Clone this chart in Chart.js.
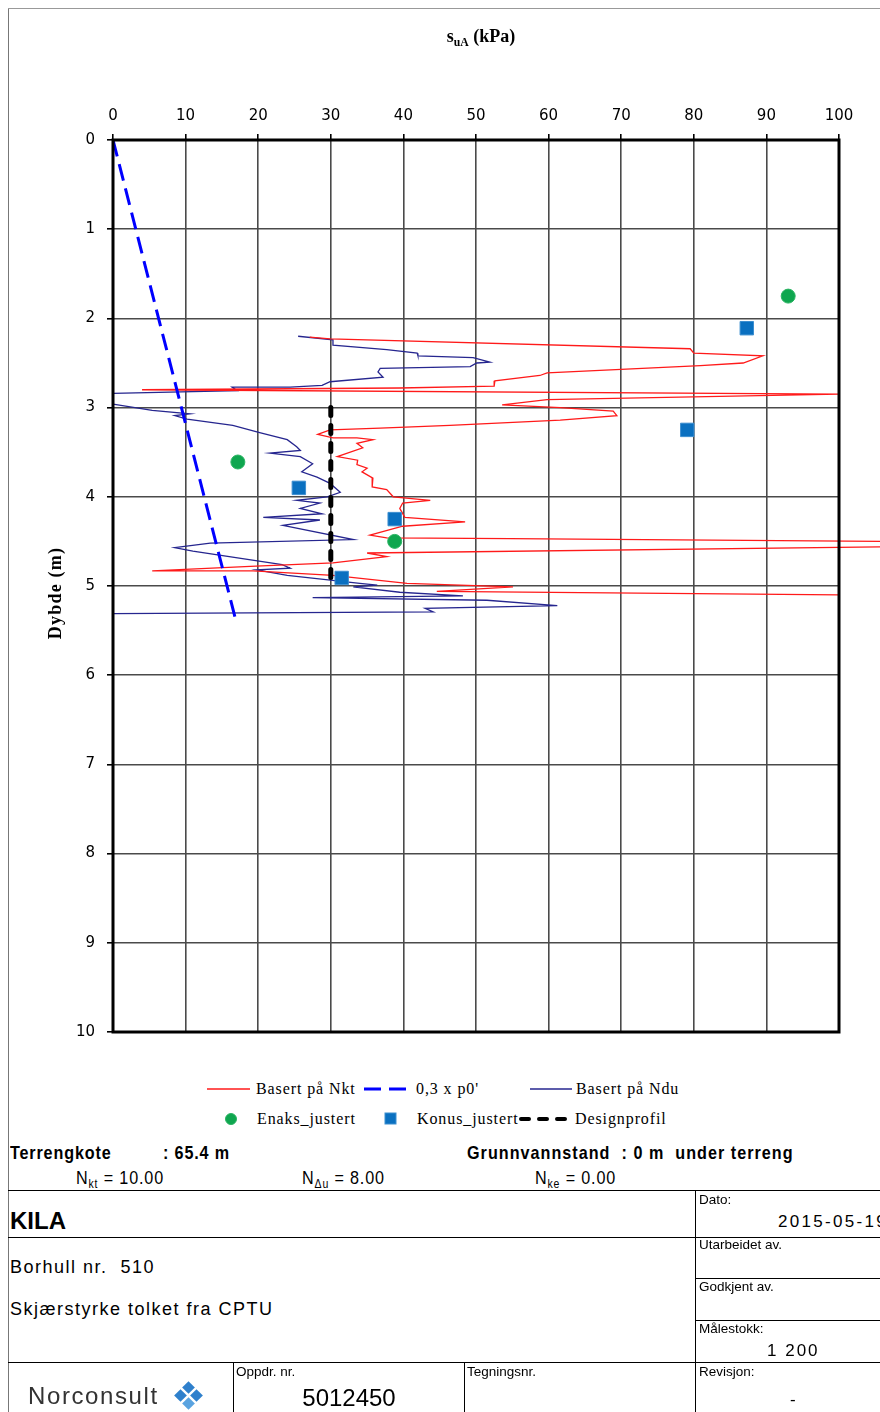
<!DOCTYPE html>
<html><head><meta charset="utf-8">
<script src="https://cdn.jsdelivr.net/npm/chart.js@4.4.1/dist/chart.umd.min.js"></script>
<style>
html,body{margin:0;padding:0;background:#fff;}
#page{position:relative;width:880px;height:1412px;overflow:hidden;background:#fff;}
.abs{position:absolute;white-space:nowrap;}
.hl{position:absolute;height:1px;background:#000;}
.vl{position:absolute;width:1px;background:#000;}
.serif{font-family:"Liberation Serif","Times New Roman",serif;}
.narrow{font-family:"Liberation Sans",Arial,sans-serif;transform:scaleX(0.85);transform-origin:0 50%;}
.sans{font-family:"Liberation Sans",Arial,sans-serif;}
sub{font-size:65%;vertical-align:-0.3em;line-height:0;}
</style></head>
<body><div id="page">
<canvas id="c" width="880" height="1060" style="position:absolute;left:0;top:0;"></canvas>

<!-- frame -->
<div class="vl" style="left:8px;top:8px;height:1404px;background:#777;"></div>
<div class="hl" style="left:8px;top:8px;width:872px;background:#999;"></div>

<!-- axis titles -->
<div class="abs serif" style="left:381px;width:200px;text-align:center;top:25px;line-height:22px;font-size:18px;font-weight:bold;">s<sub>uA</sub> (kPa)</div>
<div class="abs serif" style="left:-45px;width:200px;text-align:center;top:583px;line-height:20px;font-size:18px;font-weight:bold;letter-spacing:1.2px;transform:rotate(-90deg);">Dybde (m)</div>

<div id="legend"></div>

<!-- info text -->
<div class="abs narrow" style="left:10px;top:1142px;line-height:22px;font-size:19px;font-weight:bold;letter-spacing:1px;">Terrengkote</div>
<div class="abs narrow" style="left:163px;top:1142px;line-height:22px;font-size:19px;font-weight:bold;letter-spacing:1px;">: 65.4 m</div>
<div class="abs narrow" style="left:467px;top:1142px;line-height:22px;font-size:19px;font-weight:bold;letter-spacing:1.2px;">Grunnvannstand&nbsp; : 0 m&nbsp; under terreng</div>
<div class="abs narrow" style="left:76px;top:1167px;line-height:22px;font-size:19px;letter-spacing:1px;">N<sub>kt</sub> = 10.00</div>
<div class="abs narrow" style="left:302px;top:1167px;line-height:22px;font-size:19px;letter-spacing:1px;">N<sub>Δu</sub> = 8.00</div>
<div class="abs narrow" style="left:535px;top:1167px;line-height:22px;font-size:19px;letter-spacing:1px;">N<sub>ke</sub> = 0.00</div>

<!-- title block -->
<div class="hl" style="left:8px;top:1190px;width:872px;"></div>
<div class="hl" style="left:8px;top:1237px;width:872px;"></div>
<div class="hl" style="left:8px;top:1362px;width:872px;"></div>
<div class="hl" style="left:695px;top:1278px;width:185px;"></div>
<div class="hl" style="left:695px;top:1320px;width:185px;"></div>
<div class="vl" style="left:695px;top:1190px;height:222px;"></div>
<div class="vl" style="left:233px;top:1362px;height:50px;"></div>
<div class="vl" style="left:464px;top:1362px;height:50px;"></div>

<div class="abs sans" style="left:699px;top:1192px;line-height:16px;font-size:13.5px;">Dato:</div>
<div class="abs sans" style="left:778px;top:1212px;line-height:20px;font-size:17px;letter-spacing:2.3px;">2015-05-19</div>
<div class="abs sans" style="left:10px;top:1207px;line-height:28px;font-size:24px;font-weight:bold;">KILA</div>
<div class="abs sans" style="left:699px;top:1237px;line-height:16px;font-size:13.5px;">Utarbeidet av.</div>
<div class="abs sans" style="left:699px;top:1279px;line-height:16px;font-size:13.5px;">Godkjent av.</div>
<div class="abs sans" style="left:699px;top:1321px;line-height:16px;font-size:13.5px;">Målestokk:</div>
<div class="abs sans" style="left:767px;top:1341px;line-height:20px;font-size:17px;letter-spacing:2px;">1 200</div>
<div class="abs sans" style="left:10px;top:1256px;line-height:22px;font-size:18px;letter-spacing:1.5px;">Borhull nr.&nbsp; 510</div>
<div class="abs sans" style="left:10px;top:1298px;line-height:22px;font-size:18px;letter-spacing:1.5px;">Skjærstyrke tolket fra CPTU</div>
<div class="abs sans" style="left:236px;top:1364px;line-height:16px;font-size:13.5px;">Oppdr. nr.</div>
<div class="abs sans" style="left:249px;width:200px;text-align:center;top:1385px;line-height:26px;font-size:24px;">5012450</div>
<div class="abs sans" style="left:467px;top:1364px;line-height:16px;font-size:13.5px;">Tegningsnr.</div>
<div class="abs sans" style="left:699px;top:1364px;line-height:16px;font-size:13.5px;">Revisjon:</div>
<div class="abs sans" style="left:790px;top:1390px;line-height:20px;font-size:17px;">-</div>
<div class="abs sans" style="left:28px;top:1383px;line-height:26px;font-size:24px;letter-spacing:1.6px;color:#333;">Norconsult</div>
<div class="abs" style="left:184px;top:1383px;width:9px;height:9px;background:#2f80cc;transform:rotate(45deg);"></div>
<div class="abs" style="left:176px;top:1391px;width:9px;height:9px;background:#2f80cc;transform:rotate(45deg);"></div>
<div class="abs" style="left:192px;top:1391px;width:9px;height:9px;background:#2f80cc;transform:rotate(45deg);"></div>
<div class="abs" style="left:184px;top:1399px;width:9px;height:9px;background:#5aa3e0;transform:rotate(45deg);"></div>

</div>
<script>
// ---------- DATA ----------
const xTicks = [0,10,20,30,40,50,60,70,80,90,100];
const depthTicks = [0,1,2,3,4,5,6,7,8,9,10];

// Basert på Nkt (red)
const nktDepth = [2.21,2.23,2.34,2.39,2.42,2.50,2.53,2.61,2.64,2.70,2.76,2.78,2.80,2.85,2.91,2.97,3.00,3.04,3.09,3.14,3.20,3.23,3.25,3.30,3.34,3.34,3.36,3.40,3.45,3.55,3.59,3.64,3.68,3.72,3.79,3.89,3.92,4.00,4.04,4.07,4.13,4.23,4.28,4.33,4.43,4.46,4.47,4.50,4.56,4.63,4.67,4.74,4.78,4.83,4.83,4.88,4.97,5.01,5.06,5.10];
const nktSu    = [27.1,29.9,79.5,80.0,89.5,86.8,80.9,59.8,58.8,52.6,52.5,39.5,4.0,100,59.8,53.6,61.6,68.9,69.4,61.6,46.4,36.8,29.9,28.2,30.3,33.6,35.8,33.6,34.4,30.9,33.7,33.6,35.0,34.3,35.8,35.7,37.7,38.6,43.7,39.9,39.5,40.2,48.5,39.9,35.4,37.7,54.7,106,106,35.0,37.7,30.3,18.9,5.4,19.3,30.3,40.5,55.1,44.6,100];

// Basert på Ndu (navy)
const nduDepth = [2.20,2.24,2.30,2.35,2.39,2.42,2.44,2.49,2.50,2.54,2.56,2.60,2.66,2.71,2.75,2.77,2.77,2.81,2.84,2.96,3.03,3.07,3.09,3.13,3.20,3.28,3.36,3.44,3.48,3.51,3.55,3.63,3.72,3.78,3.85,3.95,4.00,4.04,4.07,4.13,4.19,4.23,4.26,4.32,4.48,4.52,4.57,4.61,4.76,4.80,4.82,4.88,4.97,4.99,5.01,5.07,5.11,5.13,5.16,5.22,5.25,5.29,5.31];
const nduSu    = [25.5,30.3,30.3,37.7,41.9,42.0,49.6,51.9,50.1,49.2,36.8,36.5,37.2,29.9,28.8,24.4,16.4,17.1,0,0,5.4,10.6,8.5,10.2,16.5,20.2,24.0,25.3,25.8,21.6,25.8,27.5,26.0,28.1,29.9,31.3,29.5,25.3,28.5,25.8,28.8,20.7,28.5,23.4,33.1,13.4,8.5,11.0,23.3,24.4,19.8,24.0,34.0,36.4,33.1,39.5,48.2,27.5,51.5,61.2,43.0,44.1,0];

// 0,3 x p0'
const p0Depth = [0, 5.38];
const p0Su    = [0, 16.9];

// Designprofil
const designDepth = [3.0, 5.0];
const designSu    = [30, 30];

// Enaks_justert
const enaksDepth = [1.75, 3.61, 4.50];
const enaksSu    = [93.0, 17.2, 38.8];

// Konus_justert
const konusDepth = [2.11, 3.25, 3.90, 4.25, 4.91];
const konusSu    = [87.3, 79.1, 25.6, 38.8, 31.5];

// ---------- BUILD ----------
const pts = (xs, ys) => xs.map((x, i) => ({x: x, y: ys[i]}));

const datasets = [
  {label:'Basert på Nkt', data:pts(nktSu,nktDepth), showLine:true, borderColor:'#ff1a1a', borderWidth:1.3, pointRadius:0, clip:false, order:4, kind:'line'},
  {label:"0,3 x p0'", data:pts(p0Su,p0Depth), showLine:true, borderColor:'#0000ff', borderWidth:3, borderDash:[17,8], pointRadius:0, order:3, kind:'line'},
  {label:'Basert på Ndu', data:pts(nduSu,nduDepth), showLine:true, borderColor:'#26268f', borderWidth:1.3, pointRadius:0, order:5, kind:'line'},
  {label:'Enaks_justert', data:pts(enaksSu,enaksDepth), showLine:false, pointStyle:'circle', pointRadius:7, backgroundColor:'#0fa64f', borderColor:'#2bb463', borderWidth:1, order:0, kind:'circle'},
  {label:'Konus_justert', data:pts(konusSu,konusDepth), showLine:false, pointStyle:'rect', pointRadius:9.5, backgroundColor:'#0a70c0', borderColor:'#3d8fd0', borderWidth:1, order:0, kind:'rect'},
  {label:'Designprofil', data:pts(designSu,designDepth), showLine:true, borderColor:'#000', borderWidth:5, borderDash:[8,10], borderCapStyle:'round', pointRadius:0, order:1, kind:'line'}
];

const frame = {
  id:'frame',
  afterDatasetsDraw(chart){
    const a = chart.chartArea, ctx = chart.ctx;
    ctx.save();
    ctx.strokeStyle = '#000'; ctx.lineWidth = 3;
    ctx.strokeRect(a.left, a.top, a.right - a.left, a.bottom - a.top);
    ctx.restore();
  }
};

const tickFont = {family:'"DejaVu Sans", Verdana, sans-serif', size:15};

const chart = new Chart(document.getElementById('c'), {
  type:'scatter',
  data:{datasets},
  options:{
    responsive:false, animation:false, devicePixelRatio:1,
    layout:{padding:{left:0, top:0, right:41, bottom:28}},
    plugins:{legend:{display:false}, tooltip:{enabled:false}, title:{display:false}},
    scales:{
      x:{type:'linear', position:'top', min:0, max:100,
         afterBuildTicks(s){ s.ticks = xTicks.map(v => ({value:v})); },
         afterFit(s){ s.height = 140; },
         ticks:{font:tickFont, color:'#000', padding:9},
         grid:{color:'#4a4a4a', lineWidth:1.6, tickLength:6, tickColor:'#000'},
         border:{display:false}},
      y:{type:'linear', reverse:true, min:0, max:10,
         afterBuildTicks(s){ s.ticks = depthTicks.map(v => ({value:v})); },
         afterFit(s){ s.width = 113; },
         ticks:{font:tickFont, color:'#000', padding:12},
         grid:{color:'#4a4a4a', lineWidth:1.6, tickLength:6, tickColor:'#000'},
         border:{display:false}}
    }
  },
  plugins:[frame]
});

// ---------- LEGEND (HTML, from datasets) ----------
const legendSlots = [
  {ds:0, sx:207, sw:43, tx:256, cy:1089},
  {ds:1, sx:364, sw:50, tx:416, cy:1089},
  {ds:2, sx:530, sw:42, tx:576, cy:1089},
  {ds:3, sx:224, sw:14, tx:257, cy:1119},
  {ds:4, sx:384, sw:13, tx:417, cy:1119},
  {ds:5, sx:521, sw:52, tx:575, cy:1119}
];
const leg = document.getElementById('legend');
legendSlots.forEach(s => {
  const d = chart.data.datasets[s.ds];
  let svg;
  if (d.kind === 'line') {
    const w = Math.min(d.borderWidth, 4);
    const dash = d.borderDash ? d.borderDash.join(',') : 'none';
    svg = `<svg width="${s.sw}" height="12" style="position:absolute;left:${s.sx}px;top:${s.cy-6}px;overflow:visible"><line x1="0" y1="6" x2="${s.sw}" y2="6" stroke="${d.borderColor}" stroke-width="${w}" stroke-dasharray="${dash}" stroke-linecap="${d.borderCapStyle||'butt'}"/></svg>`;
  } else if (d.kind === 'circle') {
    svg = `<svg width="14" height="14" style="position:absolute;left:${s.sx}px;top:${s.cy-7}px"><circle cx="7" cy="7" r="5.5" fill="${d.backgroundColor}" stroke="${d.borderColor}"/></svg>`;
  } else {
    svg = `<svg width="14" height="14" style="position:absolute;left:${s.sx}px;top:${s.cy-7}px"><rect x="1" y="1" width="11" height="11" fill="${d.backgroundColor}" stroke="${d.borderColor}"/></svg>`;
  }
  leg.insertAdjacentHTML('beforeend', svg +
    `<div class="abs serif" style="left:${s.tx}px;top:${s.cy-10}px;line-height:20px;font-size:16px;letter-spacing:0.9px;">${d.label}</div>`);
});
</script>
</body></html>
